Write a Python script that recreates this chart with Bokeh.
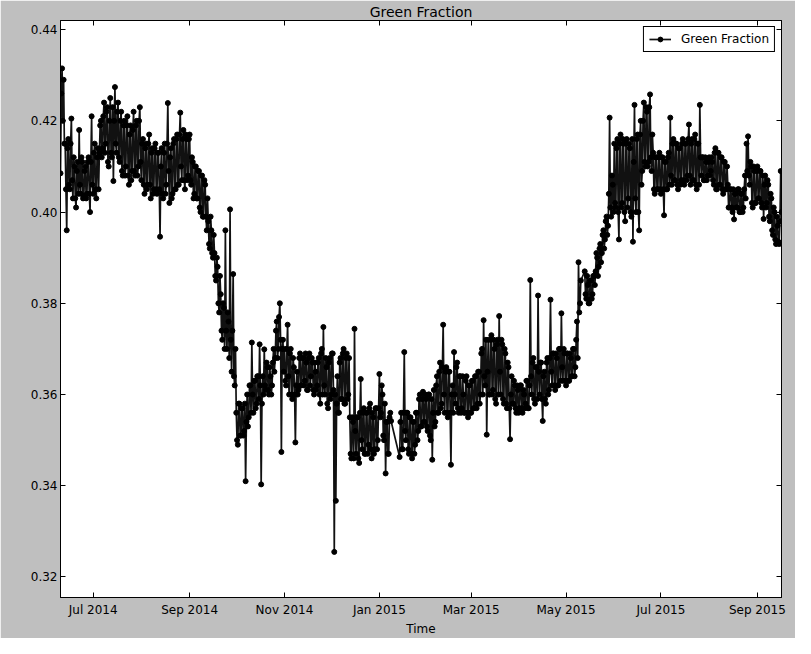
import datetime as dt
from bokeh.plotting import figure
from bokeh.models import (ColumnDataSource, FixedTicker, DatetimeTickFormatter, Range1d,
                          LinearAxis, DatetimeAxis, Legend, LegendItem, PrintfTickFormatter)
from bokeh.embed import file_html
from bokeh.resources import INLINE

# Green fraction, two readings per day (morning "a", evening "b"), in units of 1e-4
# (None = no reading that day)
start_date = dt.date(2014, 6, 10)
jun_2014_a = [4085, 4315, 4290, 4150, 3960, 4160, 4050, 4205, 4030, 4100, 4010, 4110, 4180, 4040,
              4110, 4035, 4100, 4040, 4120, 4000, 4210]
jun_2014_b = [4260, 4200, 4150, 4050, 4140, 4060, 4150, 4070, 4120, 4030, 4090, 4040, 4060, 4120,
              4030, 4090, 4030, 4110, 4040, 4110, 4060]
jul_2014_a = [4040, 4150, 4030, 4140, 4130, 4200, 4140, 4240, 4150, 4230, 4100, 4250, 4120, 4068,
              4274, 4130, 4240, 4110, 4220, 4080, 4200, 4100, 4210, 4060, 4190, 4090, 4220, 4080,
              4200, 4100, 4230]
jul_2014_b = [4130, 4050, 4120, 4050, 4190, 4120, 4210, 4130, 4220, 4110, 4200, 4130, 4230, 4200,
              4150, 4220, 4120, 4200, 4090, 4190, 4080, 4190, 4080, 4170, 4070, 4180, 4090, 4190,
              4080, 4200, 4110]
aug_2014_a = [4070, 4160, 4040, 4150, 4060, 4170, 4030, 4140, 4050, 4150, 4040, 4130, 3946, 4140,
              4030, 4150, 4060, 4239, 4020, 4140, 4040, 4160, 4050, 4170, 4060, 4218, 4070, 4180,
              4050, 4160, 4080]
aug_2014_b = [4150, 4060, 4140, 4050, 4150, 4060, 4130, 4040, 4140, 4050, 4130, 4050, 4100, 4040,
              4130, 4040, 4150, 4090, 4120, 4030, 4150, 4050, 4160, 4060, 4170, 4100, 4160, 4070,
              4170, 4070, 4160]
sep_2014_a = [4170, 4060, 4110, 4040, 4100, 4030, 4090, 4000, 4080, 3990, 4060, 3960, 3980, 3920,
              3960, 3900, 3910, 3850, 3880, 3780, 3820, 3720, 3790, 3960, 3700, 3760, 4006, 3650,
              3864, 3620]
sep_2014_b = [4070, 4120, 4030, 4100, 4030, 4090, 4010, 4080, 3990, 4070, 3990, 4030, 3930, 3990,
              3910, 3950, 3860, 3900, 3800, 3860, 3740, 3800, 3700, 3740, 3780, 3680, 3720, 3740,
              3640, 3700]
oct_2014_a = [3560, 3490, 3580, 3510, 3570, 3520, 3410, 3600, 3550, 3620, 3714, 3560, 3630, 3580,
              3640, 3710, 3403, 3640, 3699, 3610, 3660, 3600, 3640, 3620, 3700, 3680, 3760, 3700,
              3800, 3474, 3720]
oct_2014_b = [3500, 3580, 3510, 3570, 3510, 3580, 3540, 3530, 3620, 3560, 3600, 3630, 3570, 3640,
              3590, 3620, 3580, 3600, 3620, 3670, 3610, 3660, 3600, 3670, 3650, 3740, 3680, 3770,
              3720, 3700, 3650]
nov_2014_a = [3700, 3620, 3753, 3600, 3700, 3590, 3660, 3495, 3650, 3610, 3690, 3620, 3680, 3630,
              3670, 3610, 3690, 3640, 3670, 3600, 3650, 3620, 3680, 3580, 3700, 3748, 3600, 3660,
              3570, 3680]
nov_2014_b = [3630, 3700, 3640, 3690, 3600, 3680, 3600, 3620, 3600, 3680, 3620, 3680, 3620, 3690,
              3610, 3680, 3620, 3680, 3610, 3670, 3610, 3670, 3600, 3690, 3600, 3620, 3680, 3580,
              3670, 3590]
dec_2014_a = [3600, 3690, 3255, 3367, 3640, 3560, 3680, 3590, 3700, 3580, 3690, 3600, 3550, 3460,
              3540, 3744, 3470, 3550, 3450, 3634, 3480, 3570, 3470, 3560, 3490, 3580, 3460, 3550,
              3480, 3570, 3500]
dec_2014_b = [3690, 3610, 3600, 3580, 3560, 3670, 3590, 3690, 3580, 3680, 3590, 3680, 3470, 3550,
              3460, 3520, 3550, 3460, 3560, 3500, 3560, 3470, 3560, 3470, 3570, 3480, 3560, 3470,
              3570, 3480, 3570]
jan_2015_a = [3645, 3560, 3600, 3500, 3427, 3540, 3470, 3560, None, None, None, None, None, 3463,
              3560, 3480, 3693, 3500, 3560, 3470, 3550, 3460, 3540, 3490, 3560, 3520, 3600, 3530,
              3606, 3540, 3590]
jan_2015_b = [3550, 3620, 3510, 3580, 3540, 3470, 3550, 3542, None, None, None, None, None, 3540,
              3480, 3560, 3520, 3560, 3480, 3550, 3470, 3540, 3470, 3560, 3500, 3590, 3530, 3590,
              3540, 3600, 3530]
feb_2015_a = [3520, 3600, 3500, 3457, 3610, 3540, 3640, 3560, 3670, 3580, 3753, 3560, 3660, 3550,
              3650, 3446, 3620, 3693, 3580, 3670, 3560, 3640, 3570, 3600, 3560, 3640, 3550, 3620]
feb_2015_b = [3600, 3510, 3590, 3560, 3530, 3620, 3560, 3650, 3570, 3660, 3600, 3650, 3560, 3650,
              3560, 3600, 3560, 3600, 3660, 3570, 3640, 3560, 3640, 3560, 3630, 3560, 3620, 3560]
mar_2015_a = [3560, 3630, 3570, 3640, 3580, 3650, 3600, 3700, 3763, 3620, 3512, 3720, 3600, 3730,
              3610, 3700, 3580, 3720, 3772, 3600, 3710, 3580, 3690, 3570, 3660, 3502, 3640, 3580,
              3620, 3560, 3610]
mar_2015_b = [3630, 3570, 3640, 3570, 3650, 3580, 3690, 3600, 3640, 3720, 3650, 3600, 3720, 3600,
              3720, 3590, 3710, 3600, 3650, 3720, 3590, 3700, 3580, 3670, 3570, 3600, 3580, 3630,
              3570, 3620, 3560]
apr_2015_a = [3570, 3620, 3560, 3600, 3580, 3630, 3570, 3851, 3600, 3680, 3580, 3660, 3817, 3600,
              3670, 3542, 3650, 3580, 3680, 3610, 3808, 3620, 3690, 3610, 3680, 3620, 3700, 3778,
              3630, 3690]
apr_2015_b = [3620, 3570, 3610, 3570, 3630, 3570, 3620, 3640, 3670, 3590, 3660, 3590, 3650, 3670,
              3590, 3640, 3590, 3670, 3600, 3680, 3650, 3690, 3620, 3690, 3620, 3700, 3630, 3660,
              3700, 3630]
may_2015_a = [3620, 3690, 3630, 3680, 3640, 3700, 3660, 3760, 3890, 3800, None, None, 3870, 3810,
              3840, 3800, 3850, 3820, 3860, 3870, 3900, 3880, 3930, 3910, 3960, 3940, 3990, 3970,
              4207, 3990, 4060]
may_2015_b = [3690, 3630, 3690, 3640, 3700, 3640, 3720, 3680, 3780, 3850, None, None, 3820, 3860,
              3800, 3850, 3810, 3860, 3840, 3910, 3860, 3920, 3890, 3950, 3920, 3980, 3950, 4040,
              4010, 4080, 4000]
jun_2015_a = [4150, 4010, 4160, 3940, 4170, 4020, 4150, 3980, 4160, 4030, 4140, 3990, 3935, 4235,
              4000, 4170, 3960, 4200, 4090, 4240, 4100, 4220, 4110, 4258, 4090, 4130, 4040, 4120,
              4050, 4130]
jun_2015_b = [4020, 4140, 4000, 4150, 4010, 4160, 4000, 4150, 4010, 4150, 4000, 4160, 4110, 4030,
              4160, 4000, 4170, 4060, 4200, 4110, 4230, 4100, 4230, 4120, 4170, 4050, 4120, 4050,
              4120, 4050]
jul_2015_a = [4040, 4120, 3993, 4110, 4050, 4130, 4207, 4060, 4160, 4070, 4150, 4050, 4140, 4070,
              4160, 4060, 4150, 4080, 4192, 4060, 4160, 4070, 4170, 4050, 4150, 4235, 4080, 4120,
              4070, 4110, 4080]
jul_2015_b = [4120, 4050, 4110, 4050, 4120, 4060, 4080, 4150, 4070, 4150, 4060, 4140, 4060, 4150,
              4070, 4150, 4070, 4160, 4080, 4150, 4070, 4160, 4060, 4150, 4060, 4120, 4120, 4070,
              4120, 4070, 4110]
aug_2015_a = [4120, 4090, 4110, 4060, 4140, 4050, 4130, 4060, 4120, 4040, 4110, 4050, 4060, 4010,
              4050, 4000, 3984, 4040, 4010, 4050, 4000, 4040, 4010, 4080, 4150, 4166, 4060, 4100,
              4010, 4090, 4020]
aug_2015_b = [4080, 4120, 4070, 4130, 4050, 4130, 4060, 4120, 4050, 4110, 4050, 4100, 4010, 4050,
              4010, 4050, 4040, 4010, 4050, 4000, 4040, 4000, 4050, 4030, 4090, 4080, 4110, 4020,
              4100, 4020, 4090]
sep_2015_a = [4100, 4030, 4090, 4010, 3985, 4080, 4020, 4060, 3980, 4030, 3950, 4000, 3930, 3970,
              3930, 4090]
sep_2015_b = [4030, 4090, 4020, 4080, 4060, 4010, 4070, 3990, 4040, 3960, 4010, 3940, 3990, 3935,
              3980, 4000]

y_ticks = [0.32, 0.34, 0.36, 0.38, 0.40, 0.42, 0.44]
x_tick_dates = [dt.datetime(2014, 7, 1), dt.datetime(2014, 9, 1), dt.datetime(2014, 11, 1),
                dt.datetime(2015, 1, 1), dt.datetime(2015, 3, 1), dt.datetime(2015, 5, 1),
                dt.datetime(2015, 7, 1), dt.datetime(2015, 9, 1)]

months_a = [jun_2014_a, jul_2014_a, aug_2014_a, sep_2014_a, oct_2014_a, nov_2014_a, dec_2014_a,
            jan_2015_a, feb_2015_a, mar_2015_a, apr_2015_a, may_2015_a, jun_2015_a, jul_2015_a,
            aug_2015_a, sep_2015_a]
months_b = [jun_2014_b, jul_2014_b, aug_2014_b, sep_2014_b, oct_2014_b, nov_2014_b, dec_2014_b,
            jan_2015_b, feb_2015_b, mar_2015_b, apr_2015_b, may_2015_b, jun_2015_b, jul_2015_b,
            aug_2015_b, sep_2015_b]
all_a, all_b = [], []
for ma, mb in zip(months_a, months_b):
    n = min(len(ma), len(mb))
    all_a += ma[:n]
    all_b += mb[:n]

base = dt.datetime.combine(start_date, dt.time())
times, vals = [], []
for i, (va, vb) in enumerate(zip(all_a, all_b)):
    if va is not None:
        times.append(base + dt.timedelta(days=i))
        vals.append(va / 10000.0)
    if vb is not None:
        times.append(base + dt.timedelta(days=i, hours=12))
        vals.append(vb / 10000.0)

src = ColumnDataSource(data=dict(t=times, v=vals))

FONT = "DejaVu Sans"
p = figure(width=795, height=638, x_axis_type="datetime", output_backend="svg",
           toolbar_location=None, title="Green Fraction",
           x_range=Range1d(times[0], times[-1]), y_range=Range1d(0.3155, 0.442),
           min_border_left=60, min_border_right=14, min_border_top=9, min_border_bottom=6)
p.border_fill_color = "#bfbfbf"
p.background_fill_color = "white"
p.outline_line_color = "black"
p.outline_line_width = 1
p.grid.visible = False

p.title.align = "center"
p.title.text_font = FONT
p.title.text_font_size = "14px"
p.title.text_font_style = "normal"
p.title.text_color = "black"
p.title.standoff = 2

line_r = p.line("t", "v", source=src, line_color="#111111", line_width=1.7)
dot_r = p.scatter("t", "v", source=src, size=5, color="black")

tick_ms = [d.timestamp() * 1000 for d in x_tick_dates]
fmt = DatetimeTickFormatter(days="%b %Y", months="%b %Y", years="%b %Y")

xa = p.xaxis[0]
xa.ticker = FixedTicker(ticks=tick_ms)
xa.formatter = fmt
xa.axis_label = "Time"
ya = p.yaxis[0]
ya.ticker = FixedTicker(ticks=y_ticks)
ya.formatter = PrintfTickFormatter(format="%.2f")

top = DatetimeAxis(ticker=FixedTicker(ticks=tick_ms), formatter=fmt)
right = LinearAxis(ticker=FixedTicker(ticks=y_ticks))
p.add_layout(top, "above")
p.add_layout(right, "right")

for ax in [xa, ya, top, right]:
    ax.major_tick_in = 5
    ax.major_tick_out = 0
    ax.major_tick_line_color = "black"
    ax.minor_tick_line_color = None
    ax.axis_line_color = "black"
    ax.major_label_text_font = FONT
    ax.major_label_text_font_size = "12px"
    ax.major_label_text_color = "black"
    ax.axis_label_text_font = FONT
    ax.axis_label_text_font_size = "12px"
    ax.axis_label_text_font_style = "normal"
    ax.axis_label_text_color = "black"
for ax in [top, right]:
    ax.major_label_text_font_size = "1px"
    ax.major_label_text_color = None
    ax.major_label_standoff = 0
xa.major_label_standoff = 5
ya.major_label_standoff = 3
xa.axis_label_standoff = 2

legend = Legend(items=[LegendItem(label="Green Fraction", renderers=[line_r, dot_r])],
                location="top_right")
legend.margin = 6
legend.padding = 5
legend.spacing = 0
legend.glyph_width = 22
legend.glyph_height = 12
legend.label_standoff = 10
legend.label_text_font = FONT
legend.label_text_font_size = "12px"
legend.label_text_color = "black"
legend.border_line_color = "black"
legend.border_line_width = 1
legend.border_line_alpha = 1
legend.background_fill_color = "white"
legend.background_fill_alpha = 1
p.add_layout(legend)

open("out.html", "w").write(file_html(p, INLINE))
